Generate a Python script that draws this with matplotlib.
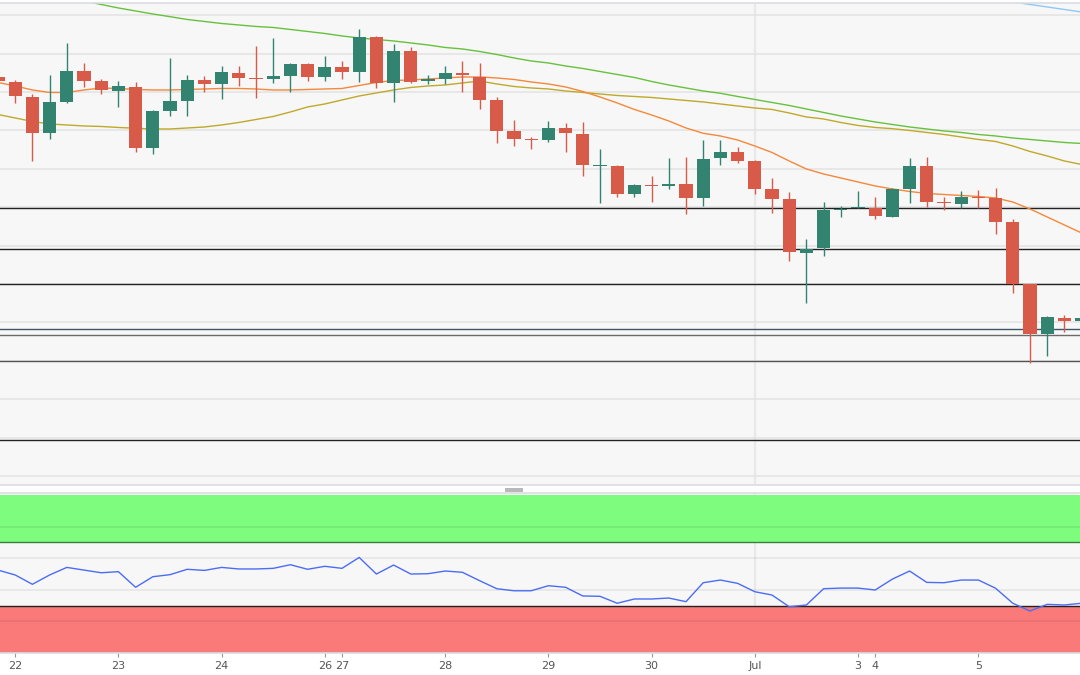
import numpy as np
import matplotlib.pyplot as plt
from matplotlib.patches import Rectangle

plt.rcParams['font.family'] = ['Liberation Sans Narrow', 'DejaVu Sans']

# 4h candles, index 0 = first candle of the 22nd
idx = np.arange(-1, 63)

opens = [407.7, 403.3, 388.3, 351.7, 383, 414, 404, 394.3, 398.3, 336.7, 374.3, 384.3, 404.7, 400.7,
         412.3, 406.7, 406, 409, 421, 408, 417.7, 412.7, 448.3, 401.7, 433.7, 404.3, 405.7, 412.3,
         408.3, 385, 354, 346.3, 345, 357.3, 351.3, 318.7, 319.3, 291.3, 300, 299, 301, 287.3, 326.7,
         333.3, 324, 295.7, 285.7, 232.3, 237.3, 275.3, 276.7, 276.7, 268.3, 296.3, 319, 283, 281.3,
         288.3, 287.3, 262.7, 200.7, 150.7, 167.3, 164]
highs = [409, 405, 391, 410, 442.3, 421.7, 405.7, 403.7, 403.3, 375, 426.7, 410, 409, 419,
         419, 439, 446.7, 422.3, 421.7, 429, 424, 455.7, 449.3, 441, 437.7, 410, 418.7, 424,
         421.7, 388.3, 365, 347.7, 364, 362.3, 363, 336, 320, 300.7, 309.3, 327.3, 328.3, 345, 345,
         338.3, 325, 306.7, 293.3, 245.7, 282.7, 279, 294, 287.7, 297.3, 326.7, 327.7, 287.7, 294,
         295, 296.7, 265.7, 200.7, 169, 170, 168]
lows = [403, 381.7, 324.3, 345.7, 382.3, 398.3, 391, 378.3, 332.7, 331, 369.3, 369.3, 393, 385.7,
        399, 387.3, 402.3, 393.3, 404.3, 404.3, 405.7, 403.3, 396.7, 383.3, 402.3, 401, 401, 393.3,
        375.7, 342.3, 339, 335.7, 343.3, 332.7, 309, 281.7, 287.7, 287.7, 283.3, 295.7, 271, 279, 320,
        322.3, 290.7, 272.3, 224.3, 182.3, 229, 268.3, 276.7, 265.7, 268.3, 281.7, 278.3, 274.7, 276.7,
        276.7, 251, 192.3, 122.3, 129, 153.3, 160]
closes = [403.7, 388.7, 351.7, 382.7, 414, 404, 394.7, 398.7, 336.7, 374, 384, 405, 400.7, 412.7,
          406.7, 406, 409, 421, 407.7, 418, 412.7, 447.7, 401.7, 433.7, 403.3, 406, 412.3, 410,
          385, 354, 346.3, 345.3, 357.3, 351.7, 319.7, 319.3, 291, 299.7, 299, 301, 287.3, 326.3, 333.3,
          324.3, 296, 285.7, 232.7, 236, 275, 276.3, 277.3, 268.7, 296, 319.3, 282.7, 281.7, 287.7,
          287.3, 263, 200.7, 150.7, 167.7, 164, 167.3]

ma_fast = [402.5, 399, 395, 392.5, 392.5, 395, 397, 396.5, 395.5, 395, 395, 395.5, 396, 396.5,
           396.5, 396, 395, 395, 395.5, 396, 396.5, 399.5, 402.5, 404.5, 405, 406, 407, 408, 408,
           407, 405.5, 403, 401, 398, 393.5, 388, 382, 375.5, 370, 364, 357, 351.7, 349, 345, 339,
           332.5, 324, 316, 311, 307, 303, 299, 296, 293.5, 291.5, 290.5, 289.5, 288.5, 287, 283,
           276, 268, 260, 252]
ma_mid = [370.5, 367, 363.5, 361, 360, 359, 358.5, 357.5, 356.7, 356, 356, 357, 358, 360, 362.5,
          365.5, 368.5, 373, 378, 381, 385, 389, 392, 395, 397.5, 399, 400, 402, 404, 401, 398.5,
          397, 396, 394, 392.5, 391, 389.5, 388.5, 387.5, 386, 384.5, 383, 381, 379, 377, 375.5,
          372, 368, 366, 362.5, 359.5, 357.5, 356.3, 354.5, 352.5, 350.5, 348, 345.5, 343.5, 339,
          333.5, 329, 324, 320.5]
ma_slow = [499.5, 496.5, 493.5, 490, 487, 484, 480.5, 477, 474, 471, 468.3, 465.5, 463.5, 461.5,
           460, 458.5, 457.5, 455.5, 453.5, 451.5, 449, 447, 445.5, 444, 442, 440, 437.5, 436,
           433.5, 430.5, 427, 424, 422, 419, 416.5, 413.5, 410.5, 407.5, 403.5, 400, 397, 394,
           391.7, 388.5, 385.5, 382.5, 379.5, 376, 372.5, 369, 366, 363, 360.5, 358, 356, 354,
           352.5, 350.5, 349, 347, 345.5, 344, 342.5, 341.5]
idx_long = np.arange(56, 63)
ma_long = [488, 485.5, 483, 480.5, 478, 475.5, 473]

rsi = [52.5, 49.4, 43.5, 49.4, 54.2, 52.5, 50.8, 51.5, 41.6, 48.3, 49.6, 53, 52.3, 54.2, 53.2,
       53.2, 53.6, 55.9, 53, 54.9, 53.6, 60.5, 50, 55.7, 50, 50.2, 51.9, 51.1, 45.8, 40.7, 39.4,
       39.4, 42.6, 41.6, 36.1, 35.9, 31.5, 34.2, 34.2, 34.8, 32.5, 44.5, 46.2, 44.1, 38.8, 36.7,
       29.3, 30.4, 40.7, 41.1, 41.1, 39.9, 46.8, 51.9, 44.7, 44.5, 46.2, 46.2, 41, 31.5, 26.6,
       30.8, 30.4, 31.5]

levels = [277, 235.7, 200.5, 155.7, 150, 124.3, 45]
level_colors = ['#222222', '#222222', '#222222', '#3e5468', '#6a6a6a', '#555555', '#222222']
grid_levels = [9, 47.4, 85.8, 124.2, 162.6, 201, 239.4, 277.8, 316.2, 354.6, 393, 431.4, 469.8]

tick_pos = [0, 6, 12, 18, 19, 25, 31, 37, 43, 49, 50, 56]
tick_labels = ['22', '23', '24', '26', '27', '28', '29', '30', 'Jul', '3', '4', '5']

up_col = '#32836f'
down_col = '#d85a48'
bg = '#f7f7f7'

fig = plt.figure(figsize=(10.8, 6.75), dpi=100)
ax = fig.add_axes([0, 0.2815, 1, 0.7141])
ax2 = fig.add_axes([0, 0.0326, 1, 0.2370])

for a in (ax, ax2):
    a.set_facecolor(bg)
    a.set_axisbelow(True)
    a.set_xlim(-0.884, 61.907)
    for s in ('left', 'right'):
        a.spines[s].set_visible(False)
    for s in ('top', 'bottom'):
        a.spines[s].set_color('#dcdce4')
        a.spines[s].set_linewidth(1.2)
    a.axvline(43, color='#e8e8e8', lw=1.6, zorder=0)

# price panel
ax.set_ylim(0, 482)
ax.set_yticks(grid_levels)
ax.yaxis.grid(True, color='#e4e4e4', lw=1.2)
ax.tick_params(left=False, labelleft=False, bottom=False, labelbottom=False)
ax.set_xticks([])

for lv, c in zip(levels, level_colors):
    ax.axhline(lv, color=c, lw=1.0, zorder=2)

ax.plot(idx, ma_slow, color='#66c23c', lw=1.0, zorder=2.5)
ax.plot(idx, ma_mid, color='#bfa92b', lw=1.0, zorder=2.5)
ax.plot(idx, ma_fast, color='#f5883a', lw=1.0, zorder=2.5)
ax.plot(idx_long, ma_long, color='#8fc8f5', lw=1.0, zorder=2.5)

for k, o, h, l, c in zip(idx, opens, highs, lows, closes):
    col = up_col if c >= o else down_col
    ax.vlines(k, l, h, color=col, lw=1.0, zorder=3)
    body = max(abs(c - o), 1.0)
    ax.bar(k, body, bottom=min(o, c), width=0.76, color=col, linewidth=0, zorder=4)

# oscillator panel
ax2.set_ylim(0, 101.3)
ax2.axhspan(70, 100, color='#7dfc7d', zorder=0.5, lw=0)
ax2.axhspan(0, 30, color='#fa7a7a', zorder=0.5, lw=0)
for g in (20, 40, 60, 80):
    ax2.axhline(g, color='black', alpha=0.07, lw=1.2, zorder=1)
ax2.axhline(70, color='#3b7d3b', lw=1.0, zorder=2)
ax2.axhline(30, color='#222222', lw=1.0, zorder=2)
ax2.plot(idx, rsi, color='#4b6cf5', lw=1.0, zorder=3)
ax2.tick_params(left=False, labelleft=False)
ax2.set_xticks(tick_pos)
ax2.set_xticklabels(tick_labels)
ax2.tick_params(axis='x', length=3, width=0.8, color='#999999', labelcolor='#555555',
                labelsize=8, pad=3)

# splitter handle between panels
fig.patches.append(Rectangle((505 / 1080, 1 - 491.5 / 675), 18 / 1080, 4 / 675,
                             transform=fig.transFigure, color='#b8b8b8', lw=0))

fig.savefig('out.png', dpi=100, facecolor='white')
